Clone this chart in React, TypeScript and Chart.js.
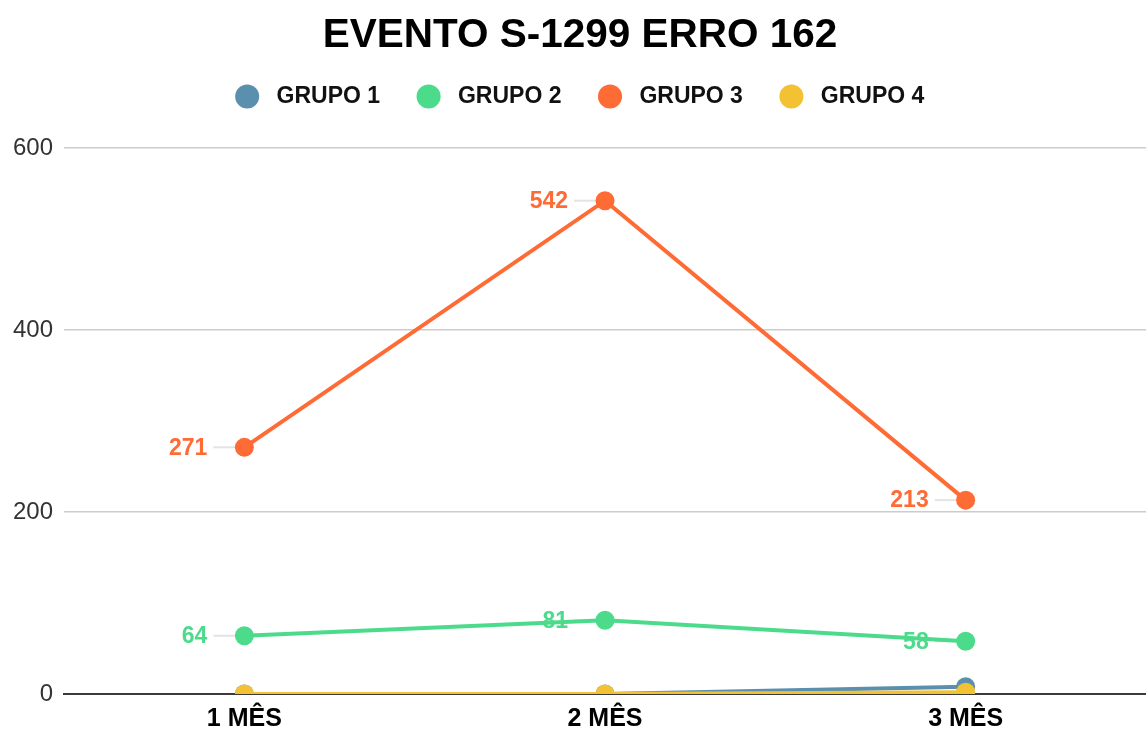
import { useEffect, useRef } from 'react';
import { Chart, registerables } from 'chart.js';

Chart.register(...registerables);

const chartTitle = 'EVENTO S-1299 ERRO 162';
const categories = ['1 MÊS', '2 MÊS', '3 MÊS'];
const seriesNames = ['GRUPO 1', 'GRUPO 2', 'GRUPO 3', 'GRUPO 4'];
const grupo1 = [0, 0, 8];
const grupo2 = [64, 81, 58];
const grupo3 = [271, 542, 213];
const grupo4 = [0, 0, 2];
const yTickValues = [0, 200, 400, 600];
const seriesColors = ['#5a8fae', '#4cdb8b', '#ff6b35', '#f3c232'];
const labeledSeries = [false, true, true, false];

const FONT = '"Liberation Sans", Arial, sans-serif';

const valueLabels = {
  id: 'valueLabels',
  beforeDatasetsDraw(chart: any) {
    const ctx = chart.ctx;
    chart.data.datasets.forEach((_ds: any, i: number) => {
      if (!labeledSeries[i]) return;
      const meta = chart.getDatasetMeta(i);
      meta.data.forEach((pt: any) => {
        ctx.save();
        ctx.strokeStyle = '#e3e3e3';
        ctx.lineWidth = 2;
        ctx.beginPath();
        ctx.moveTo(pt.x - 31, pt.y);
        ctx.lineTo(pt.x - 9, pt.y);
        ctx.stroke();
        ctx.restore();
      });
    });
  },
  afterDatasetsDraw(chart: any) {
    const ctx = chart.ctx;
    chart.data.datasets.forEach((ds: any, i: number) => {
      if (!labeledSeries[i]) return;
      const meta = chart.getDatasetMeta(i);
      meta.data.forEach((pt: any, j: number) => {
        ctx.save();
        ctx.font = `bold 23px ${FONT}`;
        ctx.fillStyle = seriesColors[i];
        ctx.textAlign = 'right';
        ctx.textBaseline = 'middle';
        ctx.fillText(String(ds.data[j]), pt.x - 37, pt.y + 1);
        ctx.restore();
      });
    });
  },
};

const legendSpacing = {
  id: 'legendSpacing',
  beforeInit(chart: any) {
    const legend = chart.legend;
    if (!legend) return;
    const originalFit = legend.fit;
    legend.fit = function fit() {
      originalFit.call(legend);
      this.height += 29.8;
    };
  },
};

export default function App() {
  const canvasRef = useRef<HTMLCanvasElement | null>(null);

  useEffect(() => {
    if (!canvasRef.current) return;
    const seriesData = [grupo1, grupo2, grupo3, grupo4];
    const chart = new Chart(canvasRef.current, {
      type: 'line',
      data: {
        labels: categories,
        datasets: seriesNames.map((name, i) => ({
          label: name,
          data: seriesData[i],
          borderColor: seriesColors[i],
          backgroundColor: seriesColors[i],
          pointBackgroundColor: seriesColors[i],
          pointBorderColor: seriesColors[i],
          borderWidth: 4,
          pointRadius: 9.5,
          pointHoverRadius: 9.5,
          pointBorderWidth: 0,
          tension: 0,
          fill: false,
          order: seriesNames.length - i,
          clip: { left: 30, right: 30, top: 30, bottom: 0 },
        })),
      },
      options: {
        responsive: false,
        animation: false,
        layout: { autoPadding: false, padding: { left: 2, right: -12, top: 0, bottom: -16 } },
        plugins: {
          title: {
            display: true,
            text: chartTitle,
            color: '#000',
            font: { family: FONT, size: 40.5, weight: 'bold', lineHeight: 0.6 },
            padding: { top: 23.8, bottom: 0 },
          },
          legend: {
            display: true,
            position: 'top',
            labels: {
              usePointStyle: true,
              pointStyle: 'circle',
              boxWidth: 24,
              boxHeight: 17,
              padding: 37,
              color: '#111',
              font: { family: FONT, size: 23, weight: 'bold' },
              sort: (a: any, b: any) => a.datasetIndex - b.datasetIndex,
              generateLabels: (chart: any) =>
                chart.data.datasets.map((ds: any, i: number) => ({
                  text: ' ' + ds.label,
                  fillStyle: seriesColors[i],
                  strokeStyle: seriesColors[i],
                  lineWidth: 0,
                  pointStyle: 'circle',
                  hidden: false,
                  datasetIndex: i,
                  fontColor: '#111',
                })),
            },
          },
          tooltip: { enabled: false },
        },
        scales: {
          x: {
            offset: true,
            grid: { display: false, drawTicks: false },
            border: { display: true, color: '#3a3a3a', width: 2 },
            afterFit: (scale: any) => {
              scale.paddingRight = -3;
              scale.paddingLeft = 0;
              if (scale._margins) scale._margins.right = -3;
            },
            ticks: {
              color: '#000',
              padding: 13,
              font: { family: FONT, size: 25, weight: 'bold', lineHeight: 1 },
            },
          },
          y: {
            min: yTickValues[0],
            max: yTickValues[yTickValues.length - 1],
            afterBuildTicks: (axis: any) => {
              axis.ticks = yTickValues.map((v) => ({ value: v }));
            },
            grid: { color: '#cccccc', lineWidth: 1.5, drawTicks: false },
            border: { display: false },
            ticks: {
              color: '#333',
              padding: 11,
              font: { family: FONT, size: 24 },
            },
          },
        },
      },
      plugins: [valueLabels, legendSpacing],
    } as any);
    return () => chart.destroy();
  }, []);

  return (
    <div style={{ position: 'fixed', left: 0, top: 0, width: 1146, height: 729, background: '#fff' }}>
      <canvas ref={canvasRef} width={1146} height={729} style={{ display: 'block' }} />
    </div>
  );
}
